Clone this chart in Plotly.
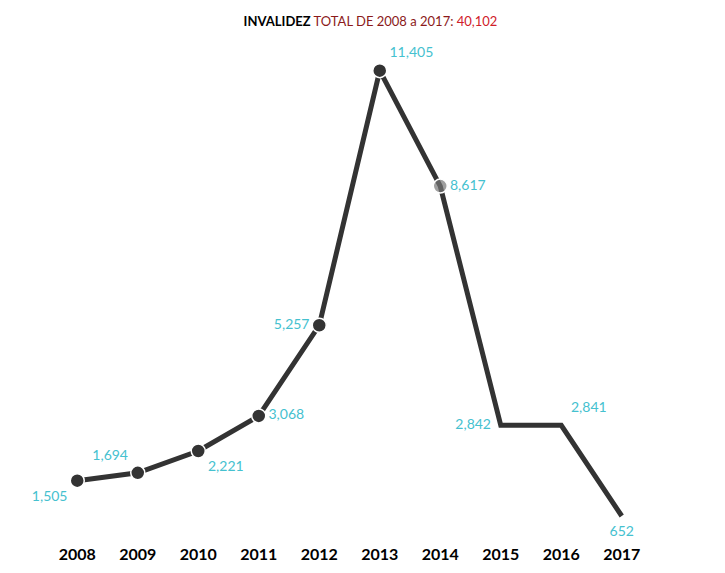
import plotly.graph_objects as go

years = [2008, 2009, 2010, 2011, 2012, 2013, 2014, 2015, 2016, 2017]
values = [1505, 1694, 2221, 3068, 5257, 11405, 8617, 2842, 2841, 652]
label_pos = ['bottom left', 'top left', 'bottom right', 'middle right', 'middle left',
             'top right', 'middle right', 'middle left', 'top right', 'bottom center']
marker_colors = ['#333333'] * 6 + ['rgba(120,120,120,0.7)'] + ['rgba(0,0,0,0)'] * 3
marker_lines = ['white'] * 7 + ['rgba(0,0,0,0)'] * 3

fig = go.Figure()
fig.add_trace(go.Scatter(
    x=years, y=values,
    mode='lines+markers+text',
    line=dict(color='#333333', width=5),
    marker=dict(size=14, color=marker_colors, line=dict(color=marker_lines, width=1.5)),
    text=[f'{v:,}' for v in values],
    textposition=label_pos,
    textfont=dict(color='#45c1cf', size=14, family='Lato'),
    cliponaxis=False,
    hoverinfo='x+y',
))

fig.update_layout(
    width=725, height=573,
    margin=dict(l=39, r=81, t=38, b=38),
    paper_bgcolor='white', plot_bgcolor='white',
    showlegend=False,
    font=dict(family='Lato'),
    title=dict(
        text="<b>INVALIDEZ</b> <span style='color:#8b1a1a'>TOTAL DE 2008 a 2017:</span> "
             "<span style='color:#d0202a'>40,102</span>",
        x=0.5, xanchor='center', y=0.985, yanchor='top',
        font=dict(size=13, color='black', family='Lato'),
    ),
    xaxis=dict(range=[2007.5, 2017.5], tickvals=years, ticktext=[f'<b>{y}</b>' for y in years],
               showgrid=False, zeroline=False, showline=False,
               tickfont=dict(size=16, color='black', family='Lato'), ticklen=0),
    yaxis=dict(range=[0, 12000], visible=False),
)

fig.write_html("out.html")
